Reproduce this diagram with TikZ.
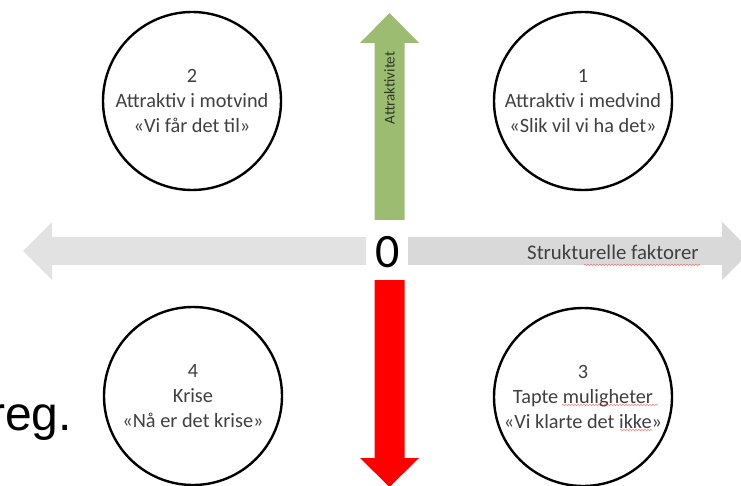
\documentclass[tikz,border=0pt]{standalone}
\usepackage{fontspec}
\setmainfont{Carlito}
\newfontfamily\arialfont{Liberation Sans}
\usetikzlibrary{decorations.pathmorphing}
\definecolor{graylight}{HTML}{E2E2E2}
\definecolor{graymid}{HTML}{D9D9D9}
\definecolor{greenarrow}{HTML}{9CBC72}
\definecolor{redarrow}{HTML}{FF0000}
\definecolor{textgray}{HTML}{404040}
\definecolor{textgreen}{HTML}{2E3A25}
\tikzset{
  quad/.style={circle, draw=black, line width=2.4pt, minimum size=178pt, inner sep=0pt,
    align=center, text=textgray, font=\fontsize{20.3}{25}\selectfont},
  spell/.style={draw=red!80, line width=0.6pt, opacity=0.6,
    decorate, decoration={snake, amplitude=0.8pt, segment length=3pt}}
}
\begin{document}
\begin{tikzpicture}[x=1pt,y=-1pt]
\useasboundingbox (0,0) rectangle (741,486);
\clip (0,0) rectangle (741,486);
\fill[white] (0,0) rectangle (741,486);
% horizontal axis
\fill[graylight] (366,237) -- (52,237) -- (52,222) -- (23,251) -- (52,280) -- (52,265) -- (366,265) -- cycle;
\fill[graymid] (408,237) -- (722,237) -- (722,222) -- (751,251) -- (722,280) -- (722,265) -- (408,265) -- cycle;
% vertical axis
\fill[greenarrow] (374.5,220) -- (374.5,43) -- (360,43) -- (389.5,13) -- (419,43) -- (404.5,43) -- (404.5,220) -- cycle;
\fill[redarrow] (374.5,280) -- (374.5,458) -- (360,458) -- (389.5,487) -- (419,458) -- (404.5,458) -- (404.5,280) -- cycle;
% labels
\node[rotate=90, text=textgreen, font=\fontsize{15}{18}\selectfont, inner sep=0pt] (attr) at (389.5,88) {Attraktivitet};
\node[font=\fontsize{48}{50}\selectfont, inner sep=0pt] (zero) at (388,252) {0};
\node[anchor=base west, text=textgray, font=\fontsize{20.8}{25}\selectfont, inner sep=0pt] (struk) at (527,260) {Strukturelle faktorer};
% quadrant circles
\node[quad] (q2) at (192,101) {2\\Attraktiv i motvind\\«Vi får det til»};
\node[quad] (q1) at (583,101) {1\\Attraktiv i medvind\\«Slik vil vi ha det»};
\node[quad] (q4) at (193,396) {4\\Krise\\«Nå er det krise»};
\node[quad] (q3) at (583,397) {3\\Tapte muligheter\\«Vi klarte det ikke»};
% left cut-off text
\node[anchor=base east, inner sep=0pt, font=\arialfont\fontsize{48}{50}\selectfont] (reg) at (72,430) {reg.};
% spell-check underlines
\draw[spell] (584,265) -- (700,265);
\draw[spell] (562,405) -- (658,405);
\draw[spell] (620,430) -- (652,430);
\end{tikzpicture}
\end{document}
